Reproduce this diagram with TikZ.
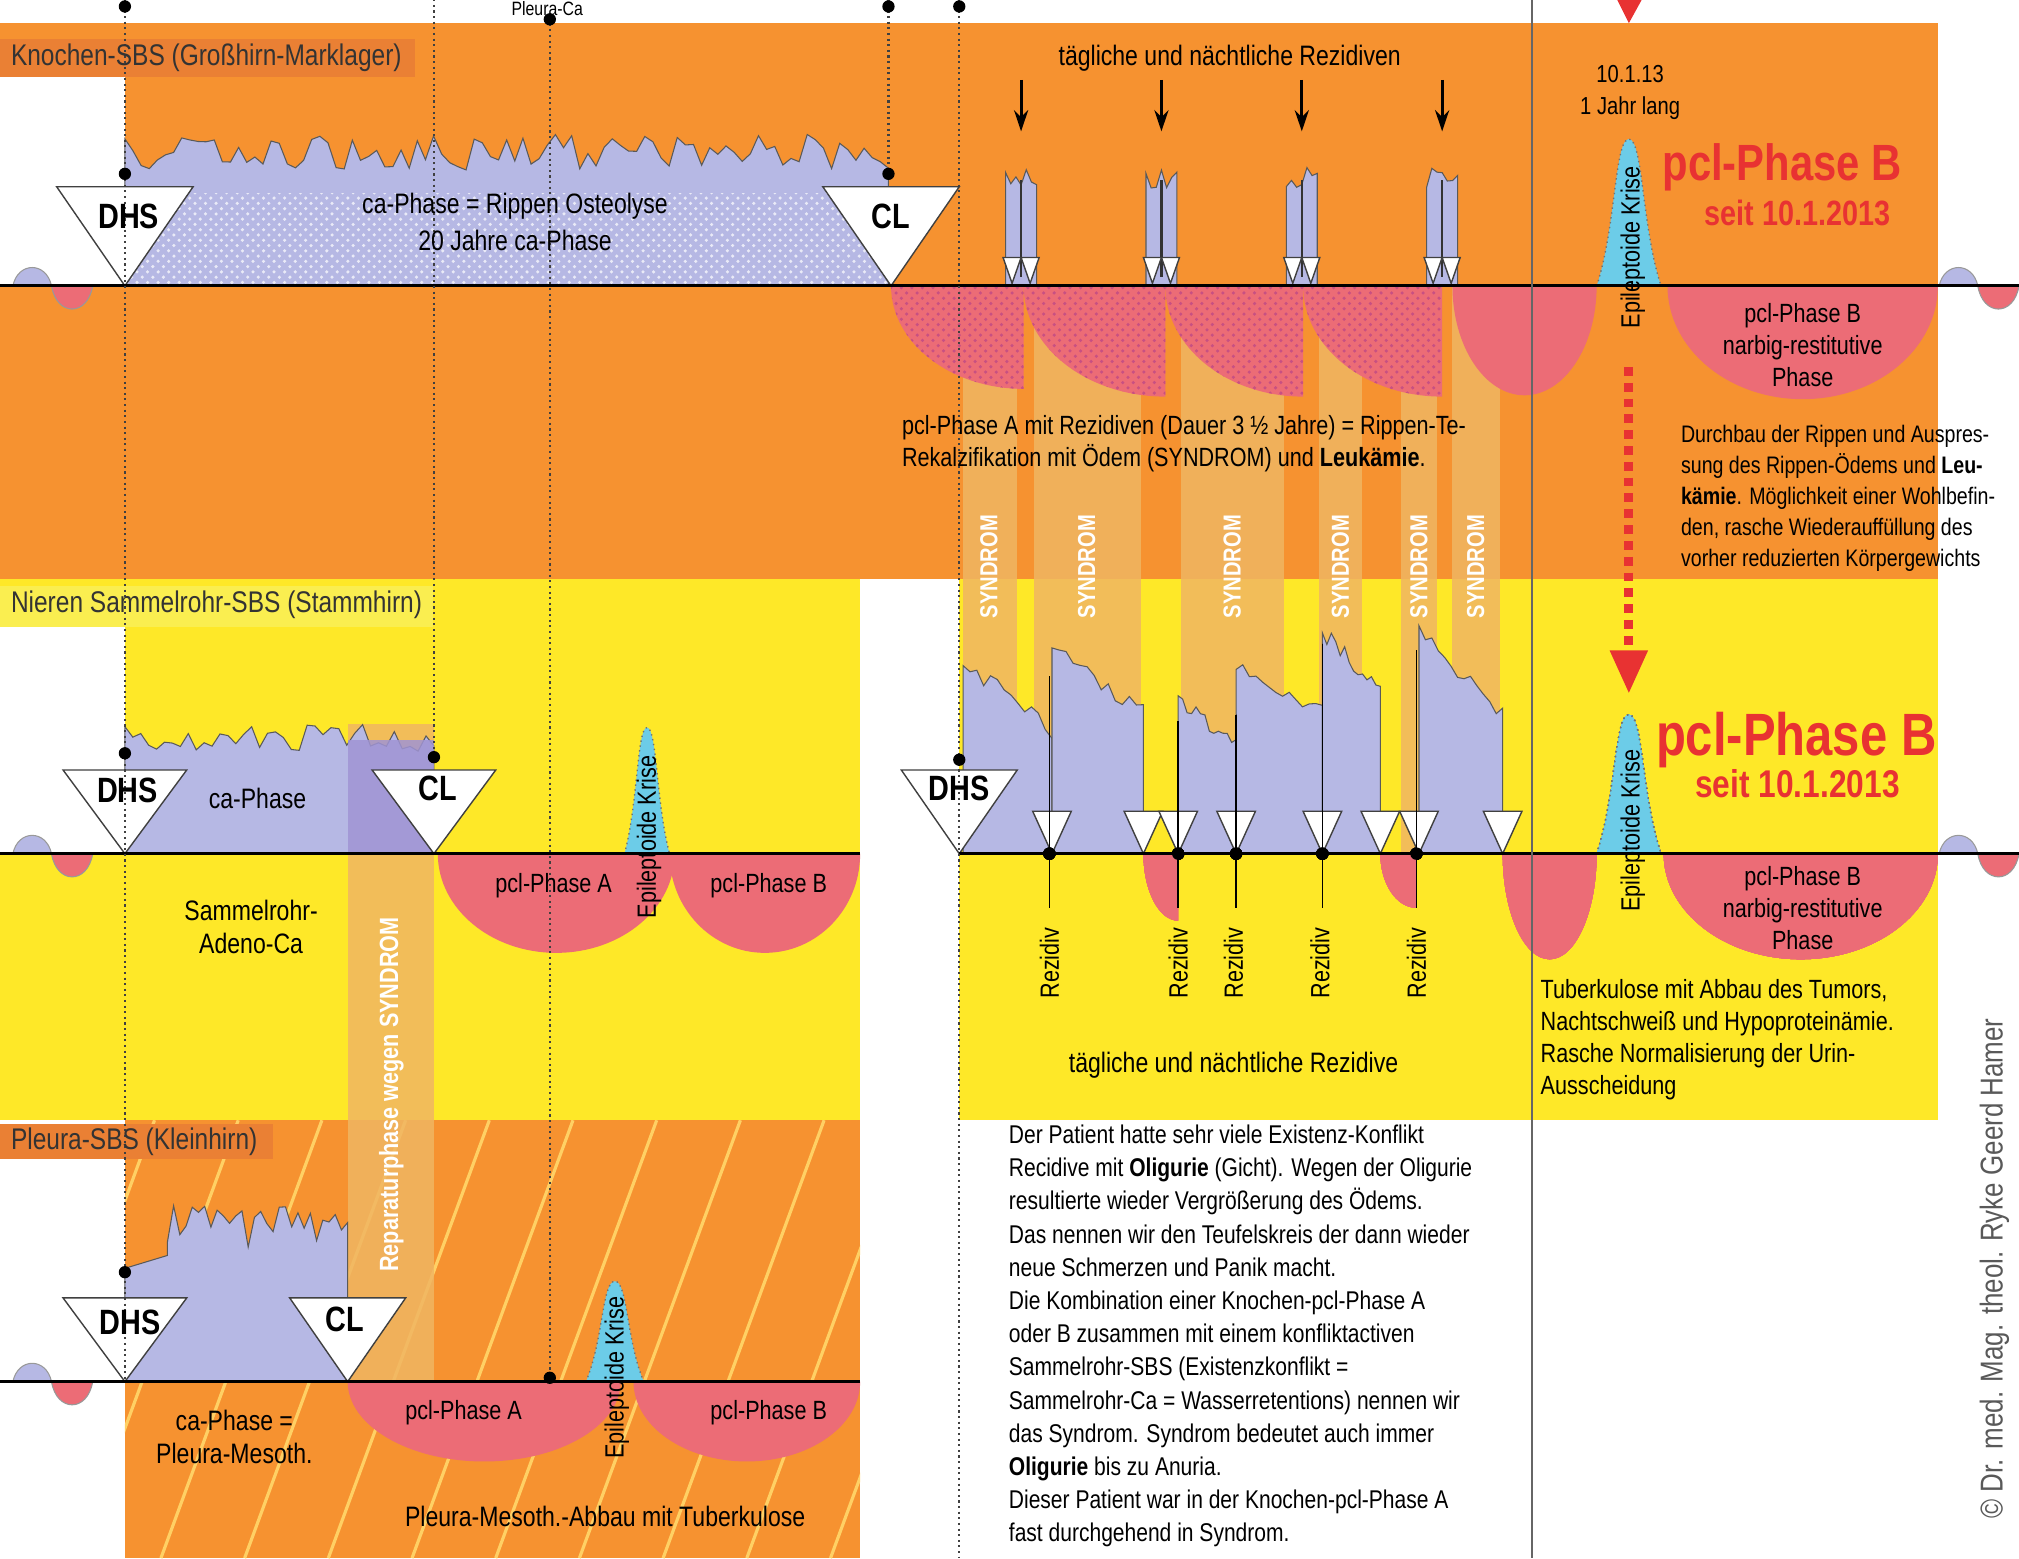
\documentclass[tikz,border=0pt]{standalone}
\usepackage{fontspec}
\setmainfont[FakeStretch=0.82]{Liberation Sans}
\usetikzlibrary{arrows.meta,patterns}
\definecolor{korange}{RGB}{246,146,48}
\definecolor{kband}{RGB}{234,128,52}
\definecolor{kyellow}{RGB}{254,232,40}
\definecolor{kyband}{RGB}{250,238,80}
\definecolor{klav}{RGB}{182,184,228}
\definecolor{kpurple}{RGB}{160,148,212}
\definecolor{kpink}{RGB}{236,108,118}
\definecolor{kmag}{RGB}{200,80,130}
\definecolor{ktan}{RGB}{240,182,98}
\definecolor{kcyan}{RGB}{108,204,232}
\definecolor{kred}{RGB}{232,50,50}
\definecolor{kstripe}{RGB}{255,208,100}
\newcommand\pclfill[5]{\path[#5] (#1,#3) .. controls (#1,{#3+0.5523*#4}) and ({(#1+#2)/2-0.5523*(#2-#1)/2},{#3+#4}) .. ({(#1+#2)/2},{#3+#4}) .. controls ({(#1+#2)/2+0.5523*(#2-#1)/2},{#3+#4}) and (#2,{#3+0.5523*#4}) .. (#2,#3) -- cycle;}
\newcommand\quarterfill[5]{\path[#5] (#1,#3) .. controls (#1,{#3+0.5523*#4}) and ({#2-0.5523*(#2-#1)},{#3+#4}) .. (#2,{#3+#4}) -- (#2,#3) -- cycle;}
\newcommand\epispike[4]{\path[fill=kcyan, draw=black!55, densely dotted, line width=0.4pt] (#1,#3) .. controls ({#1+0.3*(#2-#1)},{#3-0.4*(#3-#4)}) and ({#1+0.28*(#2-#1)},#4) .. ({(#1+#2)/2},#4) .. controls ({#2-0.28*(#2-#1)},#4) and ({#2-0.3*(#2-#1)},{#3-0.4*(#3-#4)}) .. (#2,#3) -- cycle;}
\newcommand\invtri[4]{\path[tri] ({#1-#3},#2) -- ({#1+#3},#2) -- (#1,#4) -- cycle;}
\newcommand\sidewave[2]{%
 \path[fill=klav, draw=black!40, line width=0.3pt] (#1,#2) .. controls ({#1+4},{#2-19}) and ({#1+26},{#2-19}) .. ({#1+30},#2) -- cycle;
 \path[fill=kpink, draw=black!40, line width=0.3pt] ({#1+30},#2) .. controls ({#1+34},{#2+24}) and ({#1+58},{#2+24}) .. ({#1+62},#2) -- cycle;}
\begin{document}
\begin{tikzpicture}[x=0.012876cm, y=-0.012876cm,
  tri/.style={fill=white, draw=black!75, line width=0.4pt},
  ca/.style={fill=klav, draw=black!65, line width=0.3pt},
  txt/.style={inner sep=0, font=\fontsize{7.5}{9}\selectfont},
  lbl/.style={inner sep=0, anchor=west, font=\fontsize{8.5}{10}\selectfont, text=black!80},
  dhs/.style={inner sep=0, font=\bfseries\fontsize{10}{12}\selectfont},
  big/.style={inner sep=0, text=kred, font=\bfseries\fontsize{17}{19}\selectfont},
  seit/.style={inner sep=0, text=kred, font=\bfseries\fontsize{11}{13}\selectfont},
  epi/.style={inner sep=0, rotate=90, font=\fontsize{7.5}{9}\selectfont},
  syn/.style={inner sep=0, rotate=90, text=white, font=\bfseries\fontsize{7}{8}\selectfont},
  vdot/.style={densely dotted, black!75, line width=0.6pt},
  base/.style={black, line width=0.8pt},
  rez/.style={-{Stealth[length=6pt,width=4pt]}, black, line width=0.9pt},
  dotm/.style={circle, fill=black, inner sep=0, minimum size=3.5pt}]
\pgfmathsetseed{7}
\fill[white] (0,0) rectangle (1568,1210);
\useasboundingbox (0,0) rectangle (1568,1210);
% ---------- panel backgrounds
\fill[korange] (0,18) rectangle (1505,450);
\fill[white] (0,60) rectangle (97,222);
\fill[kband] (0,30) rectangle (322,60);
\fill[kyellow] (0,450) rectangle (668,870);
\fill[kyellow] (745,450) rectangle (1505,870);
\fill[white] (0,487) rectangle (97,663);
\fill[kyband] (0,455) rectangle (336,487);
\fill[korange] (97,870) rectangle (668,1210);
\begin{scope}
\clip (97,870) rectangle (668,1210);
\foreach \s in {-200,-135,...,700} \draw[kstripe, line width=0.9pt] (\s,1210) -- ({\s+125},870);
\end{scope}
\fill[kband] (0,873) rectangle (212,900);
% ---------- syndrom strips (right)
\foreach \a/\b in {748/790,803/886,917/997,1024/1058,1088/1116,1128/1165}
  \fill[ktan, opacity=0.85] (\a,222) rectangle (\b,663);
% strip left (Reparaturphase)
\fill[ktan, opacity=0.85] (270,562) rectangle (337,1073);
% ---------- TOP PANEL
\sidewave{10}{222}
\sidewave{1506}{222}
\fill[ca] (97,222) -- (97,132) -- plot[domain=97:690, samples=95] (\x,{104+28*rnd}) -- (690,132) -- (690,222) -- cycle;
\fill[pattern=crosshatch dots, pattern color=white!70!klav] (97,150) rectangle (690,222);
\invtri{97}{145}{53}{222}
\invtri{692}{145}{53}{222}
\foreach \c in {793,902,1011,1120}{
  \pgfmathsetmacro\ca{\c-12}\pgfmathsetmacro\cb{\c+12}
  \path[ca] (\ca,222) -- (\ca,145) -- plot[domain=\ca:\cb, samples=7] (\x,{130+16*rnd}) -- (\cb,145) -- (\cb,222) -- cycle;
  \draw[black!80, line width=0.6pt] (\c,140) -- (\c,215);
  \invtri{\c-7}{200}{7}{220}
  \invtri{\c+7}{200}{7}{220}
}
\quarterfill{692}{795}{222}{80}{fill=kpink}
\quarterfill{795}{905}{222}{86}{fill=kpink}
\quarterfill{905}{1012}{222}{86}{fill=kpink}
\quarterfill{1012}{1120}{222}{86}{fill=kpink}
\pclfill{1128}{1240}{222}{85}{fill=kpink}
\quarterfill{692}{795}{222}{80}{pattern=crosshatch dots, pattern color=kmag}
\quarterfill{795}{905}{222}{86}{pattern=crosshatch dots, pattern color=kmag}
\quarterfill{905}{1012}{222}{86}{pattern=crosshatch dots, pattern color=kmag}
\quarterfill{1012}{1120}{222}{86}{pattern=crosshatch dots, pattern color=kmag}
\epispike{1240}{1290}{222}{108}
\pclfill{1295}{1505}{222}{88}{fill=kpink}
\draw[base] (0,222) -- (1568,222);
% ---------- MIDDLE PANEL left
\sidewave{10}{663}
\fill[ca] (97,663) -- (97,585) -- plot[domain=97:337, samples=40] (\x,{562+22*rnd}) -- (337,590) -- (337,663) -- cycle;
\fill[kpurple, opacity=0.85] (270,575) rectangle (337,663);
\invtri{97}{598}{48}{663}
\invtri{337}{598}{48}{663}
\pclfill{340}{524}{663}{77}{fill=kpink}
\epispike{485}{520}{663}{565}
\pclfill{520}{668}{663}{77}{fill=kpink}
\draw[base] (0,663) -- (668,663);
% ---------- MIDDLE PANEL right
\sidewave{1506}{663}
\foreach \a/\b/\ya/\yb in {748/817/520/575,817/888/512/560,915/960/552/582,960/1027/522/560,1027/1072/498/545,1102/1167/498/560}
  \path[ca] (\a,663) -- (\a,\ya) -- plot[domain=\a:\b, samples=14] (\x,{\ya+(\yb-\ya)*(\x-\a)/(\b-\a)-14*rnd}) -- (\b,\yb) -- (\b,663) -- cycle;
\invtri{745}{598}{45}{663}
\foreach \c in {817,888,915,960,1027,1072,1102,1167} \invtri{\c}{630}{15}{663}
\quarterfill{888}{915}{663}{52}{fill=kpink}
\quarterfill{1072}{1100}{663}{42}{fill=kpink}
\pclfill{1167}{1240}{663}{82}{fill=kpink}
\epispike{1240}{1290}{663}{555}
\pclfill{1292}{1505}{663}{82}{fill=kpink}
\foreach \c/\t in {815/525,915/560,960/555,1027/500,1100/505}{
  \draw[black, line width=0.5pt] (\c,\t) -- (\c,705);
  \node[dotm] at (\c,663) {};
}
\draw[base] (745,663) -- (1568,663);
% ---------- BOTTOM PANEL
\sidewave{10}{1073}
\fill[ca] (97,1073) -- (97,985) -- (130,975) -- plot[domain=130:270, samples=30] (\x,{935+38*rnd}) -- (270,1008) -- (270,1073) -- cycle;
\invtri{97}{1008}{48}{1073}
\invtri{270}{1008}{45}{1073}
\pclfill{270}{482}{1073}{62}{fill=kpink}
\epispike{455}{500}{1073}{995}
\pclfill{492}{668}{1073}{62}{fill=kpink}
\draw[base] (0,1073) -- (668,1073);
% ---------- vertical guide lines
\coordinate (g1t) at (97,-5);   \coordinate (g1b) at (97,1073);
\coordinate (g2t) at (337,-5);  \coordinate (g2b) at (337,588);
\coordinate (g3t) at (427,14);  \coordinate (g3b) at (427,1070);
\coordinate (g4t) at (690,-5);  \coordinate (g4b) at (690,135);
\coordinate (g5t) at (745,-5);  \coordinate (g5b) at (745,1210);
\coordinate (g6t) at (1190,0);  \coordinate (g6b) at (1190,1210);
\draw[vdot] (g1t) -- (g1b);
\draw[vdot] (g2t) -- (g2b);
\draw[vdot] (g3t) -- (g3b);
\draw[vdot] (g4t) -- (g4b);
\draw[vdot] (g5t) -- (g5b);
\draw[black!60, line width=0.5pt] (g6t) -- (g6b);
\foreach \p in {(97,5),(427,15),(690,5),(745,5),(97,135),(690,135),(97,585),(337,588),(745,590),(97,988),(427,1070)}
  \node[dotm] at \p {};
% red arrow
\coordinate (ra) at (1265,285); \coordinate (rb) at (1265,508);
\draw[kred, line width=2.6pt, dash pattern=on 2.5pt off 2pt] (ra) -- (rb);
\fill[kred] (1250,505) -- (1280,505) -- (1265,538) -- cycle;
\fill[kred] (1255,-2) -- (1276,-2) -- (1265,18) -- cycle;
% rezidiv arrows
\foreach \c [count=\i] in {793,902,1011,1120}{
  \coordinate (ra\i) at (\c,62); \coordinate (rb\i) at (\c,102);
  \draw[rez] (ra\i) -- (rb\i);
}
% ---------- TEXTS
\node[txt, anchor=north, font=\fontsize{5.5}{6}\selectfont] (pca) at (425,0.5) {Pleura-Ca};
\node[lbl] (l1) at (8,45) {Knochen-SBS (Großhirn-Marklager)};
\node[txt, font=\fontsize{8}{9}\selectfont] (t1) at (400,160) {ca-Phase = Rippen Osteolyse};
\node[txt, font=\fontsize{8}{9}\selectfont] (t2) at (400,187) {20 Jahre ca-Phase};
\node[dhs] (dhs1) at (100,168) {DHS};
\node[dhs] (cl1) at (692,168) {CL};
\node[txt, font=\fontsize{8}{9}\selectfont] (t3) at (955,45) {tägliche und nächtliche Rezidiven};
\node[txt, font=\fontsize{7}{8}\selectfont, align=center] (t4) at (1266,72) {10.1.13\\[1pt]1 Jahr lang};
\node[big, font=\bfseries\fontsize{14.5}{17}\selectfont] (pb1) at (1384,130) {pcl-Phase B};
\node[seit, font=\bfseries\fontsize{10}{12}\selectfont] (sb1) at (1396,165) {seit 10.1.2013};
\node[epi] (ek1) at (1268,192) {Epileptoide Krise};
\node[txt, align=center, font=\fontsize{7.5}{9.1}\selectfont] (t5) at (1400,268) {pcl-Phase B\\narbig-restitutive\\Phase};
\node[txt, anchor=north west, align=left, font=\fontsize{7.5}{9}\selectfont] (t6) at (700,322) {pcl-Phase A mit Rezidiven (Dauer 3 ½ Jahre) = Rippen-Te-\\Rekalzifikation mit Ödem (SYNDROM) und \textbf{Leukämie}.};
\node[txt, anchor=north west, align=left, font=\fontsize{6.8}{8.8}\selectfont] (t7) at (1305,330) {Durchbau der Rippen und Auspres-\\sung des Rippen-Ödems und \textbf{Leu-}\\\textbf{kämie}. Möglichkeit einer Wohlbefin-\\den, rasche Wiederauffüllung des\\vorher reduzierten Körpergewichts};
\foreach \c [count=\i] in {768,844,957,1041,1102,1146} \node[syn] (s\i) at (\c,440) {SYNDROM};
\node[lbl] (l2) at (8,470) {Nieren Sammelrohr-SBS (Stammhirn)};
\node[txt, font=\fontsize{8}{9}\selectfont] (t8) at (200,620) {ca-Phase};
\node[dhs] (dhs2) at (99,614) {DHS};
\node[dhs] (cl2) at (340,612) {CL};
\node[txt, align=center, font=\fontsize{8}{9.5}\selectfont] (t9) at (195,720) {Sammelrohr-\\Adeno-Ca};
\node[txt] (t10) at (430,688) {pcl-Phase A};
\node[txt] (t11) at (597,688) {pcl-Phase B};
\node[epi] (ek2) at (504,650) {Epileptoide Krise};
\node[syn, font=\bfseries\fontsize{7.5}{9}\selectfont] (s7) at (304,850) {Reparaturphase wegen SYNDROM};
\node[dhs] (dhs3) at (745,612) {DHS};
\foreach \c [count=\i] in {815,915,958,1025,1100} \node[epi, fill=kyellow, inner sep=1pt] (rz\i) at (\c,748) {Rezidiv};
\node[txt, font=\fontsize{8}{9}\selectfont] (t12) at (958,827) {tägliche und nächtliche Rezidive};
\node[epi] (ek3) at (1268,645) {Epileptoide Krise};
\node[big] (pb2) at (1395,575) {pcl-Phase B};
\node[seit] (sb2) at (1396,609) {seit 10.1.2013};
\node[txt, align=center, font=\fontsize{7.5}{9.1}\selectfont] (t13) at (1400,705) {pcl-Phase B\\narbig-restitutive\\Phase};
\node[txt, anchor=north west, align=left, font=\fontsize{7.5}{9.1}\selectfont] (t14) at (1196,760) {Tuberkulose mit Abbau des Tumors,\\Nachtschweiß und Hypoproteinämie.\\Rasche Normalisierung der Urin-\\Ausscheidung};
\node[lbl] (l3) at (8,887) {Pleura-SBS (Kleinhirn)};
\node[dhs] (dhs4) at (101,1027) {DHS};
\node[dhs] (cl4) at (268,1025) {CL};
\node[txt, align=center, font=\fontsize{8}{9.5}\selectfont] (t15) at (182,1116) {ca-Phase =\\Pleura-Mesoth.};
\node[txt] (t16) at (360,1097) {pcl-Phase A};
\node[txt] (t17) at (597,1097) {pcl-Phase B};
\node[epi] (ek4) at (479,1070) {Epileptoide Krise};
\node[txt, font=\fontsize{8}{9}\selectfont] (t18) at (470,1178) {Pleura-Mesoth.-Abbau mit Tuberkulose};
\node[txt, anchor=north west, align=left, font=\fontsize{7.3}{9.45}\selectfont] (t19) at (783,873) {Der Patient hatte sehr viele Existenz-Konflikt\\Recidive mit \textbf{Oligurie} (Gicht). Wegen der Oligurie\\resultierte wieder Vergrößerung des Ödems.\\Das nennen wir den Teufelskreis der dann wieder\\neue Schmerzen und Panik macht.\\Die Kombination einer Knochen-pcl-Phase A\\oder B zusammen mit einem konfliktactiven\\Sammelrohr-SBS (Existenzkonflikt =\\Sammelrohr-Ca = Wasserretentions) nennen wir\\das Syndrom. Syndrom bedeutet auch immer\\\textbf{Oligurie} bis zu Anuria.\\Dieser Patient war in der Knochen-pcl-Phase A\\fast durchgehend in Syndrom.};
\node[inner sep=0, rotate=90, text=black!65, font=\fontsize{9}{10}\selectfont] (cp) at (1549,985) {© Dr. med. Mag. theol. Ryke Geerd Hamer};
\end{tikzpicture}
\end{document}
